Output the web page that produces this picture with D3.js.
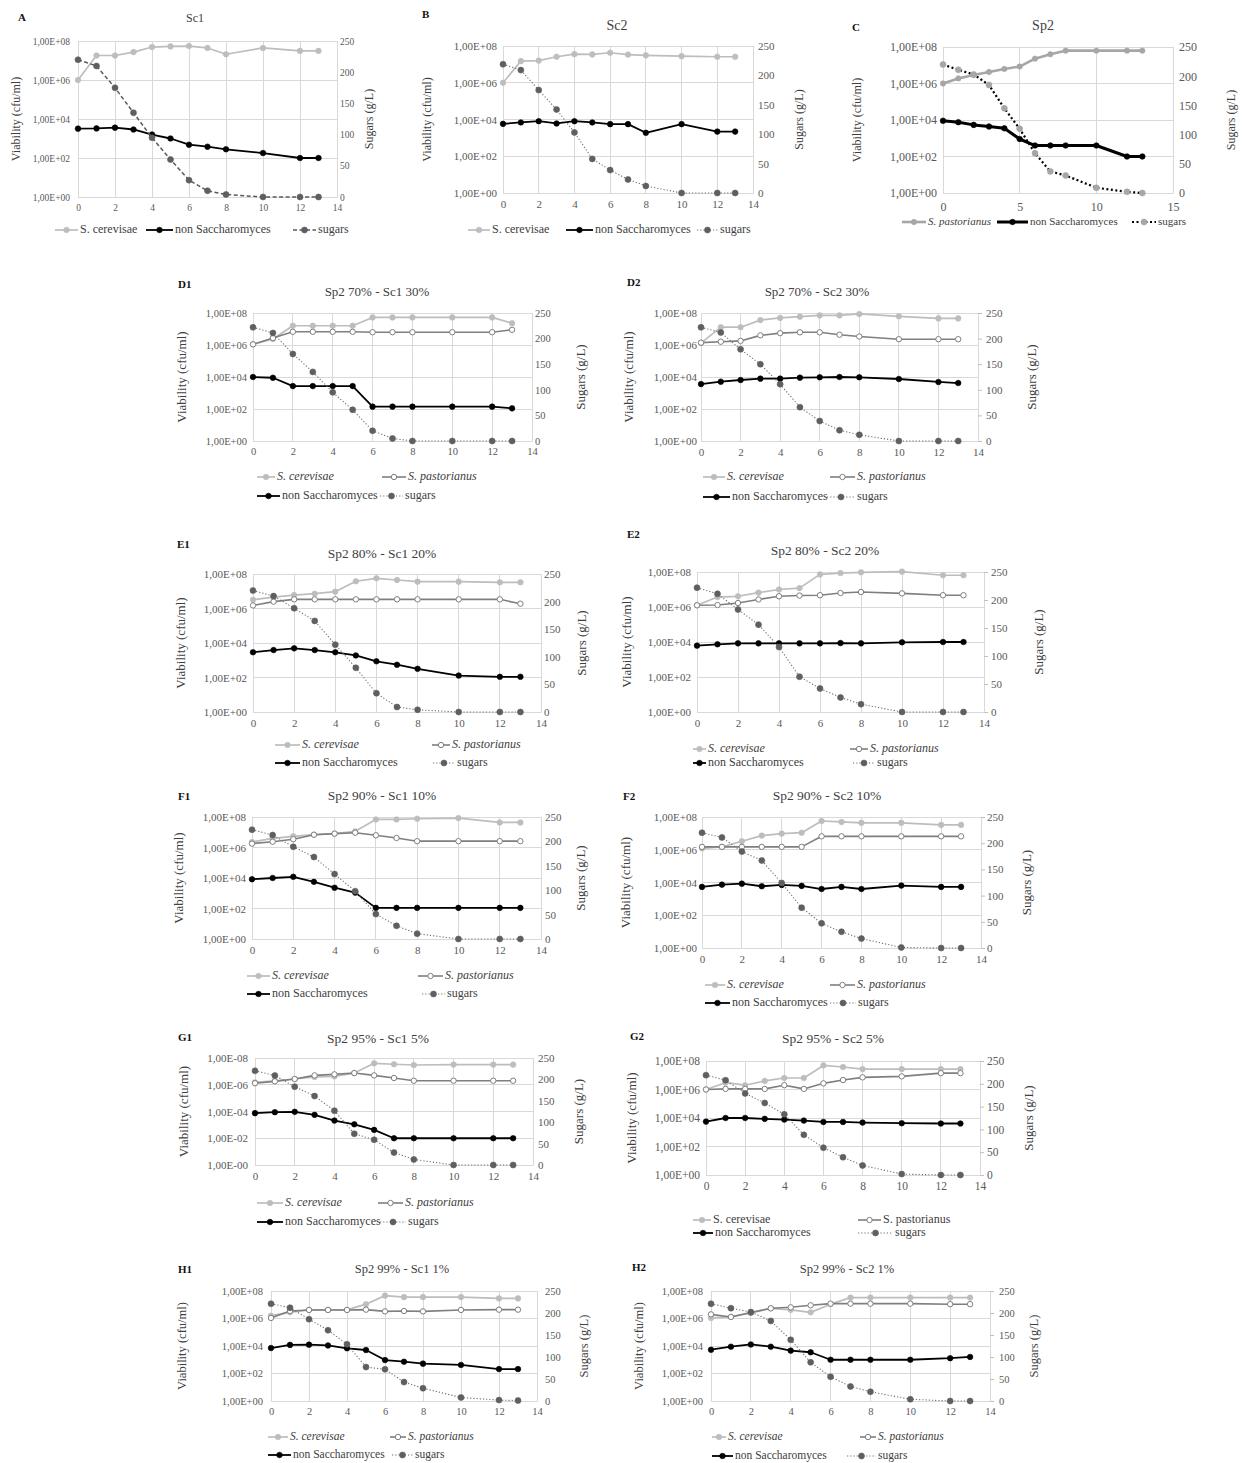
<!DOCTYPE html>
<html><head><meta charset="utf-8">
<script src="https://cdn.jsdelivr.net/npm/d3@7"></script>
<style>
body{margin:0;background:#fff}
svg{display:block}
text{font-family:"Liberation Serif","Times New Roman",serif}
</style>
</head><body>
<svg id="c" width="1242" height="1463"></svg>
<script>
// ---------- shared axes / categories ----------
const days = [0,1,2,3,4,5,6,7,8,10,12,13];
const xTicks = [0,2,4,6,8,10,12,14];
const xTicksC = [0,5,10,15];
const yTicks = [1,1e2,1e4,1e6,1e8];
const yTickLabels = ["1,00E+00","1,00E+02","1,00E+04","1,00E+06","1,00E+08"];
const yTickLabelsG1 = ["1,00E-00","1,00E-02","1,00E-04","1,00E-06","1,00E-08"];
const sugarTicks = [0,50,100,150,200,250];
const seriesNames = {scer:"S. cerevisae", past:"S. pastorianus", non:"non Saccharomyces", sug:"sugars"};

// ---------- data (cfu/ml and g/L) ----------
const scerA = [1e6,1.8e7,1.8e7,2.7e7,4.9e7,5.3e7,5.5e7,4.4e7,2.1e7,4.4e7,3.1e7,3.1e7];
const nonA  = [3.2e3,3.3e3,3.6e3,2.9e3,1.6e3,1.0e3,4.8e2,3.8e2,2.8e2,1.8e2,1e2,1e2];
const sugA  = [220,210,175,135,95,60,27,10,4,0,0,0];

const scerB = [1e6,1.5e7,1.6e7,2.6e7,3.6e7,3.5e7,4.3e7,3.4e7,3.1e7,2.8e7,2.6e7,2.6e7];
const nonB  = [5.8e3,6.9e3,8.1e3,6.1e3,8.1e3,6.9e3,5.6e3,5.6e3,1.9e3,5.6e3,2.2e3,2.2e3];
const sugB  = [219,209,175,142,103,58,39,23,12,0,0,0];

const pastC = [1e6,1.9e6,2.9e6,4.3e6,6.3e6,8.5e6,2.3e7,4e7,6.3e7,6.3e7,6.3e7,6.3e7];
const nonC  = [9.1e3,7.6e3,5.4e3,4.4e3,3.5e3,9.1e2,4e2,4e2,4e2,4e2,1e2,1e2];
const sugC  = [220,211,203,185,145,110,68,37,30,9,2,0];

const scerD1 = [1.1e6,2.4e6,1.6e7,1.6e7,1.6e7,1.6e7,5.3e7,5.3e7,5.3e7,5.3e7,5.3e7,2.3e7];
const pastD1 = [1.1e6,2.7e6,6.7e6,6.7e6,6.7e6,6.7e6,6.3e6,6.3e6,6.3e6,6.3e6,6.3e6,8.9e6];
const nonD1  = [1e4,9e3,2.7e3,2.7e3,2.7e3,2.7e3,1.4e2,1.4e2,1.4e2,1.4e2,1.4e2,1.1e2];
const sugD1  = [222,211,170,135,95,61,20,5,0,0,0,0];

const scerD2 = [1.3e6,1.3e7,1.3e7,3.6e7,4.9e7,5.9e7,7.1e7,7.1e7,8.7e7,6.2e7,4.6e7,4.6e7];
const pastD2 = [1.4e6,1.6e6,1.8e6,4e6,5.5e6,6.2e6,6.2e6,4.4e6,3.4e6,2.3e6,2.3e6,2.3e6];
const nonD2  = [3.6e3,5.1e3,6.5e3,7.9e3,7.9e3,9.1e3,9.6e3,1e4,9.6e3,7.5e3,4.9e3,4.2e3];
const sugD2  = [222,212,179,150,111,66,39,21,12,0,0,0];

const scerE1 = [3.2e6,4.6e6,6e6,7.2e6,9.5e6,3.8e7,5.6e7,4.5e7,3.6e7,3.6e7,3.3e7,3.3e7];
const pastE1 = [1.5e6,2.5e6,3.4e6,3.4e6,3.4e6,3.4e6,3.4e6,3.4e6,3.4e6,3.4e6,3.4e6,1.9e6];
const nonE1  = [2.9e3,3.9e3,4.9e3,3.9e3,2.9e3,1.9e3,8.7e2,5.5e2,3.2e2,1.3e2,1.1e2,1.1e2];
const sugE1  = [220,210,188,165,122,80,34,9,4,0,0,0];

const scerE2 = [1.25e6,3.7e6,4.1e6,6.6e6,1e7,1.2e7,7.3e7,8.7e7,9.6e7,1.05e8,6.5e7,6.5e7];
const pastE2 = [1.25e6,1.3e6,1.7e6,2.7e6,4.1e6,4.5e6,4.7e6,6.3e6,7.2e6,6e6,4.7e6,4.7e6];
const nonE2  = [6.2e3,7.4e3,8.4e3,8.4e3,8.4e3,8.4e3,8.4e3,8.7e3,8.4e3,9.6e3,1e4,1e4];
const sugE2  = [222,211,183,156,116,63,42,26,14,0,0,0];

const scerF1 = [2.3e6,4e6,5.4e6,6.9e6,8.1e6,1.15e7,6.9e7,6.9e7,7.7e7,8.5e7,4.4e7,4.4e7];
const pastF1 = [1.8e6,2.4e6,3.5e6,6.9e6,8.1e6,9.3e6,6.3e6,4.2e6,2.6e6,2.6e6,2.6e6,2.6e6];
const nonF1  = [8.3e3,1e4,1.2e4,5.6e3,2.3e3,1.1e3,1.1e2,1.1e2,1.1e2,1.1e2,1.1e2,1.1e2];
const sugF1  = [224,213,189,168,133,98,51,27,11,0,0,0];

const scerF2 = [1.2e6,1.5e6,3.3e6,7.3e6,9.7e6,1.1e7,5.7e7,5e7,4.4e7,4.4e7,3.3e7,3.3e7];
const pastF2 = [1.5e6,1.5e6,1.5e6,1.5e6,1.5e6,1.5e6,6.6e6,6.6e6,6.6e6,6.6e6,6.6e6,6.6e6];
const nonF2  = [5.4e3,7.4e3,8.5e3,5.9e3,7.1e3,6.2e3,4e3,5.4e3,4e3,6.5e3,5.4e3,5.4e3];
const sugF2  = [220,211,184,167,124,77,47,31,18,1,0,0];

const scerG1 = [1.5e6,2e6,2.7e6,3.8e6,4.2e6,7.5e6,4e7,3.4e7,3e7,3.2e7,3.2e7,3.2e7];
const pastG1 = [1.3e6,1.8e6,2.7e6,5e6,6e6,7.5e6,5e6,3.2e6,2e6,2e6,2e6,2e6];
const nonG1  = [7.5e3,8.9e3,9.4e3,5.6e3,2.1e3,1.1e3,4.2e2,1e2,1e2,1e2,1e2,1e2];
const sugG1  = [220,209,183,161,127,73,59,29,13,0,0,0];

const scerG2 = [1e6,3e6,2e6,4e6,6.4e6,6.4e6,4.9e7,3.8e7,2.7e7,2.7e7,2.7e7,2.7e7];
const pastG2 = [1e6,1.1e6,1.1e6,1.1e6,2e6,1.1e6,2.7e6,4.6e6,7.1e6,8.3e6,1.4e7,1.4e7];
const nonG2  = [5.6e3,1e4,1e4,8.7e3,7.8e3,6.6e3,5.3e3,5.3e3,4.8e3,4.3e3,4.1e3,4.1e3];
const sugG2  = [219,208,179,158,133,88,60,39,21,2,0,0];

const scerH1 = [1.6e6,2.8e6,4.2e6,4.2e6,4.2e6,1.1e7,4.6e7,3.6e7,3.6e7,3.6e7,2.9e7,2.9e7];
const pastH1 = [1.1e6,3.5e6,4.2e6,4.2e6,4.2e6,4.4e6,3.3e6,3.5e6,3.3e6,4.2e6,4.4e6,4.4e6];
const nonH1  = [7.1e3,1.2e4,1.25e4,1.1e4,6.8e3,5.1e3,9.5e2,7.2e2,5.2e2,4.2e2,2.1e2,2.1e2];
const sugH1  = [221,212,186,161,129,77,72,43,29,8,2,1];

const scerH2 = [1.1e6,1.3e6,2.8e6,5.5e6,4.2e6,2.8e6,1.1e7,3.3e7,3.3e7,3.3e7,3.3e7,3.3e7];
const pastH2 = [2e6,1.3e6,2.6e6,5.5e6,6.5e6,9.1e6,1.2e7,1.2e7,1.2e7,1.2e7,1.1e7,1.1e7];
const nonH2  = [5.4e3,8.9e3,1.3e4,8.9e3,4.6e3,3.5e3,1e3,1e3,1e3,1e3,1.3e3,1.6e3];
const sugH2  = [221,211,202,182,139,88,55,33,21,4,0,0];

// ---------- styles ----------
const BASE = {
  scer:{stroke:"#bdbdbd", w:1.7, fill:"#bdbdbd", ms:"#bdbdbd", r:2.8},
  past:{stroke:"#7f7f7f", w:1.6, fill:"#ffffff", ms:"#7f7f7f", r:2.7},
  non:{stroke:"#000000", w:1.8, fill:"#000000", ms:"#000000", r:2.8},
  sug:{stroke:"#6f6f6f", w:1.1, dash:"1.2,2", fill:"#5f5f5f", ms:"#5f5f5f", r:3}
};

// ---------- panel layout ----------
const panels = [
 {letter:"A", lp:[18,18], title:"Sc1", tp:[195,19], tfs:12, box:[78,337,41,197], xmax:14, xt:xTicks, yl:yTickLabels,
  fs:9.5, afs:12, lfs:12, vx:17, sx:370, gapL:8, gapR:3, rt:0, ital:false,
  data:{scer:scerA, non:nonA, sug:sugA}, ov:{sug:{stroke:"#595959", w:1.5, dash:"4,2.5"}},
  leg:[["scer",55,80,230],["non",146,175,230],["sug",293,318,230]]},
 {letter:"B", lp:[422,15], title:"Sc2", tp:[617,27], tfs:14, box:[503,753,46,193], xmax:14, xt:xTicks, yl:yTickLabels,
  fs:11, afs:12, lfs:12, vx:428, sx:800, gapL:6, gapR:5, rt:0, ital:false,
  data:{scer:scerB, non:nonB, sug:sugB}, ov:{},
  leg:[["scer",468,492,230],["non",566,595,230],["sug",697,720,230]]},
 {letter:"C", lp:[852,28], title:"Sp2", tp:[1043,27], tfs:14, box:[943,1173,47,193], xmax:15, xt:xTicksC, yl:yTickLabels,
  fs:12, afs:12, lfs:11, vx:858, sx:1232, gapL:6, gapR:6, rt:0, ital:true,
  data:{past:pastC, non:nonC, sug:sugC},
  ov:{past:{stroke:"#a6a6a6", w:2.6, fill:"#a6a6a6", ms:"#a6a6a6"}, non:{w:3}, sug:{stroke:"#000", w:2.2, dash:"2,2.5", fill:"#a6a6a6", ms:"#a6a6a6"}},
  leg:[["past",902,928,222],["non",997,1030,222],["sug",1132,1158,222]]},
 {letter:"D1", lp:[178,285], title:"Sp2 70% - Sc1 30%", tp:[377,293], tfs:13, box:[253,532,313,441], xmax:14, xt:xTicks, yl:yTickLabels,
  fs:10.5, afs:13, lfs:12, vx:183, sx:582, gapL:6, gapR:3, rt:0, ital:true,
  data:{scer:scerD1, past:pastD1, non:nonD1, sug:sugD1}, ov:{},
  leg:[["scer",257,277,477],["past",382,408,477],["non",257,282,496],["sug",380,405,496]]},
 {letter:"D2", lp:[627,283], title:"Sp2 70% - Sc2 30%", tp:[817,293], tfs:13, box:[701,978,313,441], xmax:14, xt:xTicks, yl:yTickLabels,
  fs:11, afs:13, lfs:12, vx:630, sx:1033, gapL:4, gapR:4, rt:4, ital:true,
  data:{scer:scerD2, past:pastD2, non:nonD2, sug:sugD2}, ov:{},
  leg:[["scer",703,727,477],["past",830,857,477],["non",703,732,497],["sug",827,857,497]]},
 {letter:"E1", lp:[177,545], title:"Sp2 80% - Sc1 20%", tp:[382,555], tfs:13.5, box:[253,541,574,712], xmax:14, xt:xTicks, yl:yTickLabels,
  fs:11, afs:13, lfs:12, vx:182, sx:583, gapL:6, gapR:3, rt:0, ital:true,
  data:{scer:scerE1, past:pastE1, non:nonE1, sug:sugE1}, ov:{},
  leg:[["scer",275,302,745],["past",432,452,745],["non",275,302,763],["sug",433,457,763]]},
 {letter:"E2", lp:[627,535], title:"Sp2 80% - Sc2 20%", tp:[825,552], tfs:13.5, box:[697,984,572,712], xmax:14, xt:xTicks, yl:yTickLabels,
  fs:11, afs:13, lfs:12, vx:628, sx:1040, gapL:6, gapR:3, rt:4, ital:true,
  data:{scer:scerE2, past:pastE2, non:nonE2, sug:sugE2}, ov:{},
  leg:[["scer",693,708,749],["past",850,870,749],["non",693,708,763],["sug",853,877,763]]},
 {letter:"F1", lp:[178,797], title:"Sp2 90% - Sc1 10%", tp:[382,797], tfs:13.5, box:[252,541,817,939], xmax:14, xt:xTicks, yl:yTickLabels,
  fs:11, afs:13, lfs:12, vx:180, sx:582, gapL:6, gapR:4, rt:0, ital:true,
  data:{scer:scerF1, past:pastF1, non:nonF1, sug:sugF1}, ov:{},
  leg:[["scer",247,272,976],["past",418,445,976],["non",247,272,994],["sug",422,447,994]]},
 {letter:"F2", lp:[623,797], title:"Sp2 90% - Sc2 10%", tp:[827,797], tfs:13.5, box:[702,981,817,948], xmax:14, xt:xTicks, yl:yTickLabels,
  fs:11, afs:13, lfs:12, vx:627, sx:1028, gapL:5, gapR:2, rt:4, ital:true,
  data:{scer:scerF2, past:pastF2, non:nonF2, sug:sugF2}, ov:{},
  leg:[["scer",705,727,985],["past",830,857,985],["non",705,732,1003],["sug",830,858,1003]]},
 {letter:"G1", lp:[178,1038], title:"Sp2 95% - Sc1 5%", tp:[378,1040], tfs:13.5, box:[255,533,1058,1165], xmax:14, xt:xTicks, yl:yTickLabelsG1,
  fs:11, afs:13, lfs:12, vx:185, sx:580, gapL:7, gapR:5, rt:0, ital:true,
  data:{scer:scerG1, past:pastG1, non:nonG1, sug:sugG1}, ov:{},
  leg:[["scer",257,285,1203],["past",378,405,1203],["non",257,285,1222],["sug",380,408,1222]]},
 {letter:"G2", lp:[630,1037], title:"Sp2 95% - Sc2 5%", tp:[833,1040], tfs:13.5, box:[706,980,1061,1175], xmax:14, xt:xTicks, yl:yTickLabels,
  fs:11.5, afs:13, lfs:12, vx:633, sx:1030, gapL:6, gapR:3, rt:4, ital:false,
  data:{scer:scerG2, past:pastG2, non:nonG2, sug:sugG2}, ov:{},
  leg:[["scer",693,713,1220],["past",858,883,1220],["non",693,715,1233],["sug",858,895,1233]]},
 {letter:"H1", lp:[178,1270], title:"Sp2 99% - Sc1 1%", tp:[402,1270], tfs:12.5, box:[271,537,1291,1401], xmax:14, xt:xTicks, yl:yTickLabels,
  fs:10.5, afs:12.5, lfs:11.5, vx:183, sx:585, gapL:8, gapR:8, rt:0, ital:true,
  data:{scer:scerH1, past:pastH1, non:nonH1, sug:sugH1}, ov:{},
  leg:[["scer",268,290,1437],["past",390,408,1437],["non",268,293,1455],["sug",392,415,1455]]},
 {letter:"H2", lp:[632,1268], title:"Sp2 99% - Sc2 1%", tp:[847,1270], tfs:12.5, box:[711,990,1291,1401], xmax:14, xt:xTicks, yl:yTickLabels,
  fs:10.5, afs:12.5, lfs:11.5, vx:640, sx:1035, gapL:8, gapR:5, rt:4, ital:true,
  data:{scer:scerH2, past:pastH2, non:nonH2, sug:sugH2}, ov:{},
  leg:[["scer",712,728,1437],["past",860,878,1437],["non",712,735,1456],["sug",847,878,1456]]}
];

const svg = d3.select("#c");
const GRID = "#d9d9d9", TICK = "#595959", TXT = "#404040";
const SERIF = "'Liberation Serif', 'Times New Roman', serif";

function styleOf(p,k){ return Object.assign({}, BASE[k], (p.ov||{})[k]||{}); }

function drawMarker(g, st, cx, cy){
  g.append("circle").attr("cx",cx).attr("cy",cy).attr("r",st.r)
    .attr("fill",st.fill).attr("stroke",st.ms).attr("stroke-width", st.fill==="#ffffff"?1:0.6);
}

function drawPanel(p){
  const [l,r,t,b] = p.box;
  const x = d3.scaleLinear().domain([0,p.xmax]).range([l,r]);
  const y = d3.scaleLog().domain([1,1e8]).range([b,t]);
  const ys = d3.scaleLinear().domain([0,250]).range([b,t]);
  const g = svg.append("g");

  // gridlines
  g.append("g").selectAll("line").data(yTicks).join("line")
    .attr("x1",l).attr("x2",r).attr("y1",d=>y(d)).attr("y2",d=>y(d))
    .attr("stroke",GRID).attr("stroke-width",1).attr("shape-rendering","crispEdges");
  g.append("g").selectAll("line").data(p.xt).join("line")
    .attr("x1",d=>x(d)).attr("x2",d=>x(d)).attr("y1",t).attr("y2",b)
    .attr("stroke",GRID).attr("stroke-width",1).attr("shape-rendering","crispEdges");

  // left axis
  const ax = g.append("g").attr("transform",`translate(${l},0)`)
    .call(d3.axisLeft(y).tickValues(yTicks).tickFormat((d,i)=>p.yl[i]).tickSize(0).tickPadding(p.gapL));
  ax.attr("font-family",null);
  ax.select(".domain").remove();
  ax.selectAll("text").attr("fill",TICK).style("font-size",p.fs+"px").style("font-family",SERIF);

  // right axis
  const ar = g.append("g").attr("transform",`translate(${r},0)`)
    .call(d3.axisRight(ys).tickValues(sugarTicks).tickSize(p.rt).tickPadding(p.gapR));
  ar.attr("font-family",null);
  ar.select(".domain").attr("stroke",GRID);
  ar.selectAll("line").attr("stroke","#bfbfbf");
  ar.selectAll("text").attr("fill",TICK).style("font-size",p.fs+"px").style("font-family",SERIF);

  // bottom axis
  const ab = g.append("g").attr("transform",`translate(0,${b})`)
    .call(d3.axisBottom(x).tickValues(p.xt).tickFormat(d3.format("d")).tickSize(0).tickPadding(p.letter==="C"?9:7));
  ab.attr("font-family",null);
  ab.select(".domain").attr("stroke",GRID);
  ab.selectAll("text").attr("fill",TICK).style("font-size",p.fs+"px").style("font-family",SERIF);

  // series
  const order = ["scer","past","non","sug"].filter(k=>p.data[k]);
  order.forEach(k=>{
    const st = styleOf(p,k);
    const vals = p.data[k];
    const pts = days.map((d,i)=>[d, vals[i]]);
    const sc = k==="sug" ? ys : y;
    const line = d3.line().x(d=>x(d[0])).y(d=>sc(d[1]));
    g.append("path").attr("d",line(pts)).attr("fill","none")
      .attr("stroke",st.stroke).attr("stroke-width",st.w)
      .attr("stroke-dasharray",st.dash||null).attr("stroke-linejoin","round");
    const mg = g.append("g");
    pts.forEach(d=>drawMarker(mg, st, x(d[0]), sc(d[1])));
  });

  // titles
  g.append("text").attr("x",p.lp[0]).attr("y",p.lp[1]).attr("dominant-baseline","middle")
    .attr("fill","#111").style("font-size","11px").style("font-weight","bold").text(p.letter);
  g.append("text").attr("x",p.tp[0]).attr("y",p.tp[1]).attr("text-anchor","middle").attr("dominant-baseline","middle")
    .attr("fill",TXT).style("font-size",p.tfs+"px").text(p.title);
  const my = (t+b)/2;
  g.append("text").attr("transform",`translate(${p.vx},${my}) rotate(-90)`).attr("text-anchor","middle")
    .attr("dominant-baseline","middle").attr("fill",TXT).style("font-size",p.afs+"px").text("Viability (cfu/ml)");
  g.append("text").attr("transform",`translate(${p.sx},${my}) rotate(-90)`).attr("text-anchor","middle")
    .attr("dominant-baseline","middle").attr("fill",TXT).style("font-size",p.afs+"px").text("Sugars (g/L)");

  // legend
  p.leg.forEach(([k,lx,tx,ly])=>{
    const st = styleOf(p,k);
    const x2 = tx-2;
    g.append("line").attr("x1",lx).attr("x2",x2).attr("y1",ly).attr("y2",ly)
      .attr("stroke",st.stroke).attr("stroke-width",st.w).attr("stroke-dasharray",st.dash||null);
    drawMarker(g, st, (lx+x2)/2, ly);
    const it = p.ital && (k==="scer"||k==="past");
    g.append("text").attr("x",tx).attr("y",ly).attr("dominant-baseline","middle")
      .attr("fill",TXT).style("font-size",p.lfs+"px").style("font-style",it?"italic":"normal")
      .text(seriesNames[k]);
  });
}

panels.forEach(drawPanel);
</script>
</body></html>
